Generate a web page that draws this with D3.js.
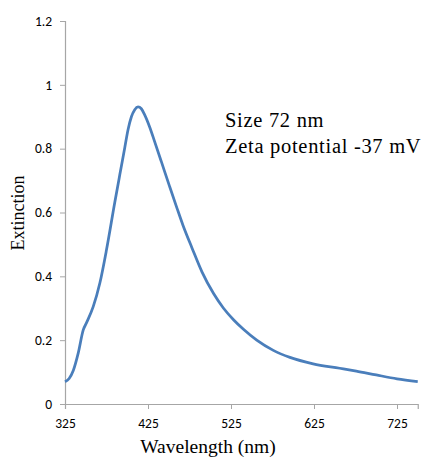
<!DOCTYPE html>
<html>
<head>
<meta charset="utf-8">
<script src="https://cdn.jsdelivr.net/npm/d3@7"></script>
<style>
  body { margin: 0; background: #fff; }
  svg { display: block; }
</style>
</head>
<body>
<svg id="chart" width="423" height="457"></svg>
<script>
// spectrum
var wavelength = [325, 330, 335, 341, 347, 351, 359, 367, 375, 385, 391, 397, 401, 405, 409, 413, 417, 421, 427, 433, 441, 451, 460, 467, 478, 490, 504, 516, 528, 540, 556, 576, 596, 624, 656, 676, 700, 725, 750];
var extinction = [0.070, 0.080, 0.105, 0.160, 0.232, 0.255, 0.305, 0.379, 0.483, 0.632, 0.718, 0.803, 0.860, 0.900, 0.922, 0.931, 0.925, 0.906, 0.868, 0.822, 0.760, 0.682, 0.613, 0.561, 0.489, 0.414, 0.346, 0.300, 0.264, 0.234, 0.200, 0.168, 0.146, 0.126, 0.112, 0.103, 0.091, 0.079, 0.070];
var xTicks = [325, 425, 525, 625, 725];
var yTicks = [0, 0.2, 0.4, 0.6, 0.8, 1, 1.2];
var notes = ["Size 72 nm", "Zeta potential -37 mV"];

var svg = d3.select("#chart");

var x = d3.scaleLinear().domain([325, 750]).range([65, 417.75]);
var y = d3.scaleLinear().domain([0, 1.2]).range([404, 21]);

var tickFont = "Carlito, Lato, 'Open Sans', sans-serif";
var serif = "'Liberation Serif', 'DejaVu Serif', serif";

// y axis
var yAxis = svg.append("g")
    .attr("transform", "translate(" + x(325) + ",0)")
    .call(d3.axisLeft(y).tickValues(yTicks).tickSize(5).tickPadding(8).tickFormat(d3.format("")));

// x axis
var xAxis = svg.append("g")
    .attr("transform", "translate(0," + y(0) + ")")
    .call(d3.axisBottom(x).tickValues(xTicks).tickSize(5).tickPadding(9).tickFormat(d3.format("")));

[yAxis, xAxis].forEach(function(a) {
    a.select(".domain").attr("stroke", "#a6a6a6").attr("stroke-width", 1.2);
    a.selectAll(".tick line").attr("stroke", "#a6a6a6");
    a.selectAll(".tick text")
        .attr("fill", "#000")
        .style("font-family", tickFont)
        .style("font-size", "13.5px");
});

// spectrum line
var pts = wavelength.map(function(w, i) { return [w, extinction[i]]; });
var line = d3.line()
    .x(function(d) { return x(d[0]); })
    .y(function(d) { return y(d[1]); })
    .curve(d3.curveMonotoneX);

svg.append("path")
    .datum(pts)
    .attr("d", line)
    .attr("fill", "none")
    .attr("stroke", "#4a7ebb")
    .attr("stroke-width", 2.75)
    .attr("stroke-linejoin", "round");

// axis titles
svg.append("text")
    .attr("x", 208)
    .attr("y", 453)
    .attr("text-anchor", "middle")
    .style("font-family", serif)
    .style("font-size", "19.5px")
    .text("Wavelength (nm)");

svg.append("text")
    .attr("transform", "translate(24,213) rotate(-90)")
    .attr("text-anchor", "middle")
    .style("font-family", serif)
    .style("font-size", "18px")
    .text("Extinction");

// annotation
svg.selectAll(".note")
    .data(notes)
    .enter().append("text")
    .attr("class", "note")
    .attr("x", 225)
    .attr("y", function(d, i) { return 127 + i * 26; })
    .style("font-family", serif)
    .style("font-size", "20.5px")
    .style("letter-spacing", "0.7px")
    .text(function(d) { return d; });
</script>
</body>
</html>
